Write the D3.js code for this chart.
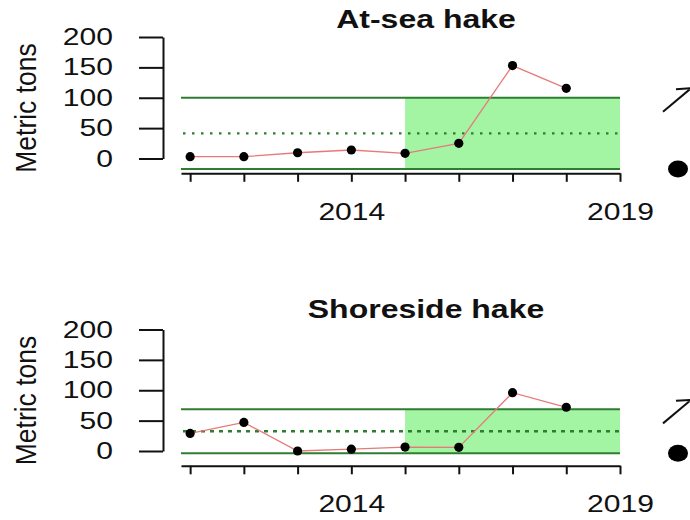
<!DOCTYPE html>
<html>
<head>
<meta charset="utf-8">
<script src="https://cdn.jsdelivr.net/npm/d3@7"></script>
<style>
  body { margin: 0; background: #fff; }
  svg { display: block; font-family: "Liberation Sans", Arial, sans-serif; }
</style>
</head>
<body>
<svg></svg>
<script>
// values
const years = [2011, 2012, 2013, 2014, 2015, 2016, 2017, 2018];
const atSeaHake = [3, 3, 9.5, 14, 8.5, 25, 153, 115.5];
const shoresideHake = [29, 47, 0, 3, 6.5, 6, 96, 72];
const panelTitles = ["At-sea hake", "Shoreside hake"];
const yTicks = [0, 50, 100, 150, 200];
const xTicks = [2011, 2012, 2013, 2014, 2015, 2016, 2017, 2018, 2019];
const xLabels = [2014, 2019];
const recentStart = 2015, recentEnd = 2019;

const width = 690, height = 520;
const panelOffset = 292.5;
const stretch = 1.28; // the picture is wider than it is tall

const svg = d3.select("svg")
    .attr("width", width)
    .attr("height", height);

const x = d3.scaleLinear().domain([2010.83, 2019]).range([181, 620]);
const y = d3.scaleLinear().domain([0, 200]).range([158.5, 37]);

const green = "#2f7d32";

[atSeaHake, shoresideHake].forEach((values, p) => {
    const g = svg.append("g").attr("transform", `translate(0,${p * panelOffset})`);

    const mean = d3.mean(values),
          sd = d3.deviation(values);
    const upper = mean + sd, lower = mean - sd;

    // shaded recent 5 years
    g.append("rect")
        .attr("x", x(recentStart))
        .attr("width", x(recentEnd) - x(recentStart))
        .attr("y", y(upper))
        .attr("height", y(lower) - y(upper))
        .attr("fill", "#a3f5a3");

    // +/- 1 sd lines
    [upper, lower].forEach(v => {
        g.append("line")
            .attr("x1", x.range()[0]).attr("x2", x.range()[1])
            .attr("y1", y(v)).attr("y2", y(v))
            .attr("stroke", green)
            .attr("stroke-width", 2);
    });

    // mean line
    g.append("line")
        .attr("x1", x.range()[0] + 2).attr("x2", x.range()[1])
        .attr("y1", y(mean)).attr("y2", y(mean))
        .attr("stroke", green)
        .attr("stroke-width", 2.4)
        .attr("stroke-dasharray", p === 0 ? "2.5,6.5" : "4,5");

    // y axis
    const yAxis = g.append("g")
        .attr("transform", "translate(163,0)")
        .call(d3.axisLeft(y).tickValues(yTicks).tickSize(24).tickSizeOuter(0).tickPadding(26));
    yAxis.selectAll("path, line").attr("stroke", "#111").attr("stroke-width", 2);
    yAxis.selectAll("text")
        .attr("x", 0)
        .attr("transform", `translate(-50,0) scale(${stretch},1)`)
        .attr("font-size", 23.5)
        .attr("fill", "#111");
    yAxis.attr("font-family", null);

    // x axis
    const xAxis = g.append("g")
        .attr("transform", "translate(0,173.3)")
        .call(d3.axisBottom(x).tickValues(xTicks).tickSize(8.5).tickSizeOuter(0).tickPadding(21.5)
            .tickFormat(d => xLabels.includes(d) ? d : ""));
    xAxis.selectAll("path, line").attr("stroke", "#111").attr("stroke-width", 2);
    xAxis.selectAll("text")
        .attr("transform", `scale(${stretch},1)`)
        .attr("font-size", 23.5)
        .attr("fill", "#111");
    xAxis.attr("font-family", null);

    // series line and points
    const line = d3.line()
        .x((d, i) => x(years[i]))
        .y(d => y(d));

    g.append("path")
        .datum(values)
        .attr("d", line)
        .attr("fill", "none")
        .attr("stroke", "#e8797b")
        .attr("stroke-width", 1.3);

    g.selectAll(".pt")
        .data(values)
        .enter().append("circle")
        .attr("class", "pt")
        .attr("cx", (d, i) => x(years[i]))
        .attr("cy", d => y(d))
        .attr("r", 4.6)
        .attr("fill", "#000");

    // title
    g.append("text")
        .attr("transform", `translate(426,${p === 0 ? 28 : 25}) scale(${stretch},1)`)
        .attr("text-anchor", "middle")
        .attr("font-weight", "bold")
        .attr("font-size", 25)
        .attr("fill", "#111")
        .text(panelTitles[p]);

    // y label
    g.append("text")
        .attr("transform", "translate(36,108) scale(1.12,1) rotate(-90)")
        .attr("text-anchor", "middle")
        .attr("font-size", 26.5)
        .attr("fill", "#111")
        .text("Metric tons");

    // trend indicators (cut off at right edge)
    const ax = x.range()[1] + 43, ay = y(upper);
    g.append("path")
        .attr("d", `M${ax},${ay + 14}L${ax + 28},${ay - 9.5}M${ax + 13},${ay - 8.5}L${ax + 28},${ay - 9.5}L${ax + 28},${ay + 5}`)
        .attr("fill", "none")
        .attr("stroke", "#111")
        .attr("stroke-width", 2);

    g.append("ellipse")
        .attr("cx", ax + 15)
        .attr("cy", y(lower))
        .attr("rx", 10)
        .attr("ry", 8.5)
        .attr("fill", "#000");
});
</script>
</body>
</html>
